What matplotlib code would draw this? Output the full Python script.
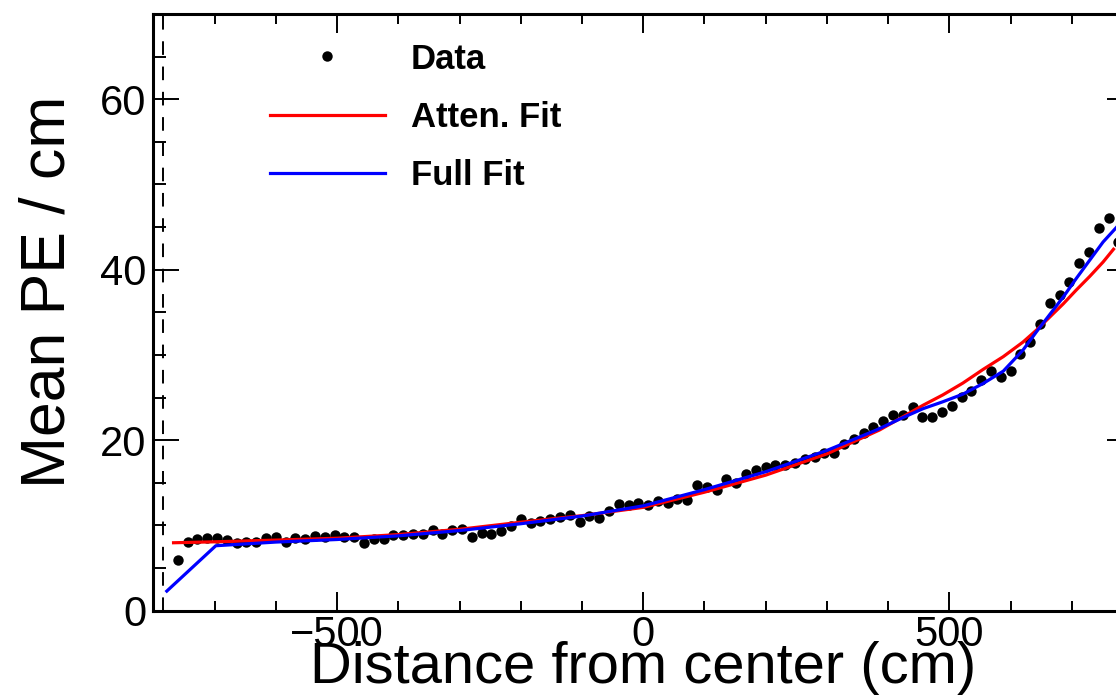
import matplotlib.pyplot as plt
from matplotlib.ticker import MultipleLocator

plt.rcParams['font.family'] = ['Liberation Sans', 'DejaVu Sans']

# mean photoelectrons per cm in 16 cm bins along the bar
distance = [
    -760, -744, -728, -712, -696, -680, -664, -648, -632, -616,
    -600, -584, -568, -552, -536, -520, -504, -488, -472, -456,
    -440, -424, -408, -392, -376, -360, -344, -328, -312, -296,
    -280, -264, -248, -232, -216, -200, -184, -168, -152, -136,
    -120, -104, -88, -72, -56, -40, -24, -8, 8, 24,
    40, 56, 72, 88, 104, 120, 136, 152, 168, 184,
    200, 216, 232, 248, 264, 280, 296, 312, 328, 344,
    360, 376, 392, 408, 424, 440, 456, 472, 488, 504,
    520, 536, 552, 568, 584, 600, 616, 632, 648, 664,
    680, 696, 712, 728, 744, 760, 776,
]
mean_pe = [
    5.94, 8.09, 8.37, 8.48, 8.56, 8.29, 7.90, 8.09, 8.09, 8.48,
    8.68, 8.09, 8.48, 8.37, 8.80, 8.68, 8.87, 8.68, 8.68, 7.97,
    8.37, 8.37, 8.87, 8.93, 8.99, 8.99, 9.46, 8.99, 9.46, 9.54,
    8.60, 9.07, 8.99, 9.38, 9.97, 10.70, 10.30, 10.55, 10.70, 10.95,
    11.20, 10.40, 11.10, 10.83, 11.72, 12.50, 12.40, 12.62, 12.45, 12.90,
    12.66, 13.06, 12.98, 14.74, 14.46, 14.15, 15.44, 14.93, 16.03, 16.50,
    16.81, 17.08, 17.08, 17.35, 17.74, 17.98, 18.45, 18.45, 19.54, 20.13,
    20.80, 21.57, 22.27, 22.90, 22.94, 23.84, 22.67, 22.75, 23.33, 24.00,
    25.02, 25.79, 27.05, 28.14, 27.43, 28.14, 30.17, 31.54, 33.69, 36.04,
    37.01, 38.57, 40.73, 42.09, 44.95, 46.12, 43.26,
]

# attenuation-only fit curve
atten_x = [-767, -700, -600, -500, -400, -300, -200, -100, 0, 100, 200, 300,
           386, 424, 457, 489, 522, 555, 588, 620, 642, 664, 686, 707, 729,
           751, 768]
atten_y = [7.97, 8.08, 8.28, 8.50, 8.93, 9.55, 10.38, 11.15, 12.12, 13.9,
           15.9, 18.4, 21.2, 22.74, 24.1, 25.3, 26.7, 28.3, 29.8, 31.5, 32.9,
           34.45, 36.0, 37.6, 39.2, 40.9, 42.4]

# full model fit curve
full_x = [-778, -698, -600, -500, -400, -300, -200, -100, 0, 100, 200, 300,
          381, 421, 457, 489, 522, 555, 588, 620, 642, 664, 686, 707, 729,
          751, 772, 800]
full_y = [2.3, 7.62, 8.05, 8.35, 8.78, 9.4, 10.2, 11.1, 12.3, 14.2, 16.3,
          18.8, 21.2, 22.55, 23.7, 24.5, 25.4, 26.65, 28.1, 30.55, 32.7,
          34.75, 36.8, 38.95, 41.1, 43.25, 44.9, 47.2]

bar_end = -785

fig = plt.figure(figsize=(11.16, 6.95), dpi=100)
ax = fig.add_axes([0.1374, 0.1213, 0.8779, 0.8586])

ax.plot(distance, mean_pe, 'o', color='black', ms=7.5, mew=0, label='Data')
ax.plot(atten_x, atten_y, color='#ff0000', lw=2.3, label='Atten. Fit')
ax.plot(full_x, full_y, color='#0000ff', lw=2.3, label='Full Fit')
ax.axvline(bar_end, color='black', lw=1.4, linestyle=(0, (7, 6)))

ax.set_xlim(-800, 800)
ax.set_ylim(0, 70)

ax.xaxis.set_major_locator(MultipleLocator(500))
ax.xaxis.set_minor_locator(MultipleLocator(100))
ax.yaxis.set_major_locator(MultipleLocator(20))
ax.yaxis.set_minor_locator(MultipleLocator(5))

ax.tick_params(axis='both', which='both', direction='in', width=1.4,
               labelsize=30, top=True, right=True)
ax.tick_params(axis='x', which='major', length=13.5, pad=3)
ax.tick_params(axis='x', which='minor', length=7)
ax.tick_params(axis='y', which='major', length=19, pad=5)
ax.tick_params(axis='y', which='minor', length=9.5)

for spine in ax.spines.values():
    spine.set_linewidth(2.2)

ax.set_xlabel('Distance from center (cm)', fontsize=41.7)
ax.set_ylabel('Mean PE / cm', fontsize=45)
ax.xaxis.set_label_coords(0.5, -0.05)
ax.yaxis.set_label_coords(-0.077, 0.534)

ax.legend(loc='upper left', bbox_to_anchor=(0.119, 0.952), frameon=False,
          prop={'weight': 'bold', 'size': 25}, numpoints=1,
          handlelength=3.3, handletextpad=0.75, labelspacing=0.73,
          borderpad=0, borderaxespad=0)

fig.savefig('out.png', dpi=100)
